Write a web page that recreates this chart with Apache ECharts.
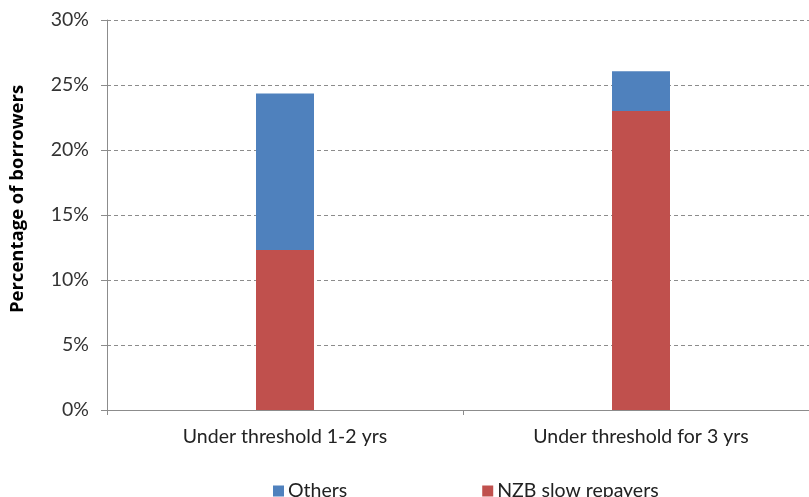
<!DOCTYPE html>
<html>
<head>
<meta charset="utf-8">
<script src="https://cdn.jsdelivr.net/npm/echarts@6/dist/echarts.min.js"></script>
<style>
  html, body { margin: 0; padding: 0; background: #fff; overflow: hidden; width: 809px; height: 497px; }
  /* the plot runs slightly past the right edge of the page, so the canvas is wider than the view */
  #chart { width: 830px; height: 497px; }
</style>
</head>
<body>
<div id="chart"></div>
<script>
// Share of borrowers under the repayment threshold, split by group
const categories = ['Under threshold 1-2 yrs', 'Under threshold for 3 yrs'];
const nzbSlowRepayers = [12.3, 23.0];
const others = [12.05, 3.05];
const yTicks = [0, 5, 10, 15, 20, 25, 30];

const FONT = 'Lato, "Open Sans", sans-serif';
const chart = echarts.init(document.getElementById('chart'));

chart.setOption({
  animation: false,
  backgroundColor: '#ffffff',
  textStyle: { fontFamily: FONT },
  grid: { left: 107, top: 20, right: 11, bottom: 87, containLabel: false },
  legend: {
    data: ['Others', 'NZB slow repayers'],
    left: 268,
    top: 476,
    itemWidth: 11,
    itemHeight: 11,
    itemGap: 135,
    icon: 'rect',
    textStyle: { fontFamily: FONT, fontSize: 19.5, color: '#222', padding: [0, 0, 0, -1] }
  },
  xAxis: {
    type: 'category',
    data: categories,
    axisLine: { lineStyle: { color: '#8c8c8c', width: 1 } },
    axisTick: { show: true, length: 5, lineStyle: { color: '#8c8c8c' } },
    axisLabel: { fontFamily: FONT, fontSize: 19.5, color: '#222', margin: 17 }
  },
  yAxis: {
    type: 'value',
    min: yTicks[0],
    max: yTicks[yTicks.length - 1],
    interval: yTicks[1] - yTicks[0],
    name: 'Percentage of borrowers',
    nameLocation: 'middle',
    nameGap: 80,
    nameTextStyle: {
      fontFamily: '"Open Sans", sans-serif',
      fontSize: 18.5,
      fontWeight: 'bold',
      color: '#000',
      padding: [0, 0, 0, 32]
    },
    axisLine: { show: true, lineStyle: { color: '#8c8c8c', width: 1 } },
    axisTick: { show: true, length: 6, lineStyle: { color: '#8c8c8c' } },
    axisLabel: { fontFamily: FONT, fontSize: 19.5, color: '#333', margin: 18, formatter: '{value}%' },
    splitLine: { show: true, lineStyle: { color: '#8c8c8c', type: [4, 3], width: 1 } }
  },
  series: [
    {
      name: 'NZB slow repayers',
      type: 'bar',
      stack: 'total',
      data: nzbSlowRepayers,
      barWidth: 58,
      itemStyle: { color: '#C0504D' }
    },
    {
      name: 'Others',
      type: 'bar',
      stack: 'total',
      data: others,
      barWidth: 58,
      itemStyle: { color: '#4F81BD' }
    }
  ]
});
</script>
</body>
</html>
